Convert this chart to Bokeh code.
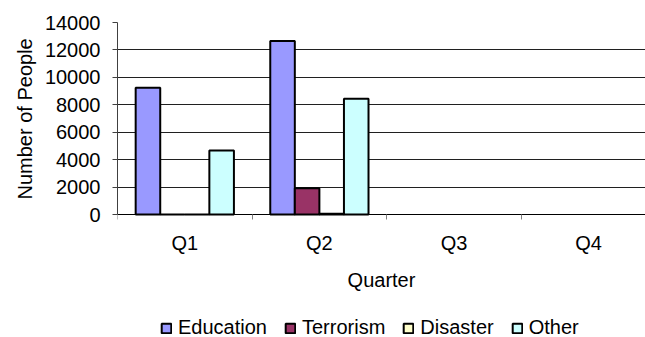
from bokeh.plotting import figure
from bokeh.models import (ColumnDataSource, Range1d, FixedTicker, Legend, LegendItem,
                          LinearAxis, Title)
from bokeh.transform import dodge
from bokeh.embed import file_html
from bokeh.resources import INLINE

NAN = float("nan")

# Quarterly headcount by program category (Q3 and Q4 not yet reported)
quarters = ["Q1", "Q2", "Q3", "Q4"]
education = [9250, 12650, NAN, NAN]
terrorism = [0, 1920, NAN, NAN]
disaster = [0, 60, NAN, NAN]
other = [4670, 8440, NAN, NAN]

series_names = ["Education", "Terrorism", "Disaster", "Other"]
series_colors = ["#9999FF", "#993366", "#FFFFCC", "#CCFFFF"]
y_ticks = [0, 2000, 4000, 6000, 8000, 10000, 12000, 14000]

FONT = "Liberation Sans"
FS = "20px"

Y_MAX = 14000
# the frame runs down to the page bottom; the area under zero holds the
# quarter labels, the axis title and the legend
Y_MIN = -Y_MAX * 123 / 192

positions = [i + 0.5 for i in range(len(quarters))]
source = ColumnDataSource(dict(pos=positions, Education=education, Terrorism=terrorism,
                               Disaster=disaster, Other=other))

p = figure(width=645, height=337, output_backend="svg", toolbar_location=None,
           x_range=Range1d(0, 3.923), y_range=Range1d(Y_MIN, Y_MAX),
           x_axis_type=None, min_border_left=117, min_border_right=0,
           min_border_top=22, min_border_bottom=0)
p.outline_line_color = None
p.background_fill_color = "white"
p.border_fill_color = "white"

# category axis pinned at zero: labels at centres, tick marks on the boundaries
xaxis = LinearAxis(ticker=FixedTicker(ticks=positions, minor_ticks=[0, 1, 2, 3, 4]),
                   fixed_location=0)
xaxis.major_label_overrides = {pos: q for pos, q in zip(positions, quarters)}
xaxis.major_tick_out = 0
xaxis.major_tick_in = 0
xaxis.minor_tick_out = 5
xaxis.minor_tick_in = 0
xaxis.minor_tick_line_color = "#808080"
xaxis.axis_line_color = "black"
xaxis.axis_line_width = 1
xaxis.major_label_standoff = 12
xaxis.major_label_text_font = FONT
xaxis.major_label_text_font_size = FS
xaxis.major_label_text_color = "black"
xaxis.axis_label = "Quarter"
xaxis.axis_label_text_font = FONT
xaxis.axis_label_text_font_size = FS
xaxis.axis_label_text_font_style = "normal"
xaxis.axis_label_text_color = "black"
xaxis.axis_label_standoff = 12
p.add_layout(xaxis, "below")

yaxis = p.yaxis[0]
yaxis.bounds = (0, Y_MAX)
yaxis.ticker = FixedTicker(ticks=y_ticks)
yaxis.major_tick_out = 5
yaxis.major_tick_in = 0
yaxis.minor_tick_line_color = None
yaxis.major_tick_line_color = "#404040"
yaxis.axis_line_color = "#404040"
yaxis.major_label_standoff = 12
yaxis.major_label_text_font = FONT
yaxis.major_label_text_font_size = FS
yaxis.major_label_text_color = "black"

# y-axis title, anchored from the bottom so it sits beside the 0..14000 span
ytitle = Title(text="Number of People", align="left", offset=138, standoff=12,
               text_font=FONT, text_font_size=FS, text_font_style="normal",
               text_color="black")
p.add_layout(ytitle, "left")

p.xgrid.visible = False
p.ygrid.ticker = FixedTicker(ticks=y_ticks)
p.ygrid.grid_line_color = "#202020"
p.ygrid.grid_line_width = 1

bar_w = 0.1825
offsets = [-1.5 * bar_w, -0.5 * bar_w, 0.5 * bar_w, 1.5 * bar_w]
items = []
for name, color, off in zip(series_names, series_colors, offsets):
    r = p.vbar(x=dodge("pos", off, range=p.x_range), top=name, width=bar_w, bottom=0,
               source=source, fill_color=color, line_color="black", line_width=2)
    items.append(LegendItem(label=name, renderers=[r]))

# legend under the axis title, placed in pixels from the frame's lower-left corner
legend = Legend(items=items, orientation="horizontal", location=(43, -2),
                label_text_font=FONT, label_text_font_size=FS,
                label_text_color="black",
                glyph_width=12, glyph_height=12, label_standoff=6, spacing=17,
                padding=0, margin=0, border_line_color=None,
                background_fill_alpha=0)
p.add_layout(legend, "center")

open("out.html", "w").write(file_html(p, INLINE))
